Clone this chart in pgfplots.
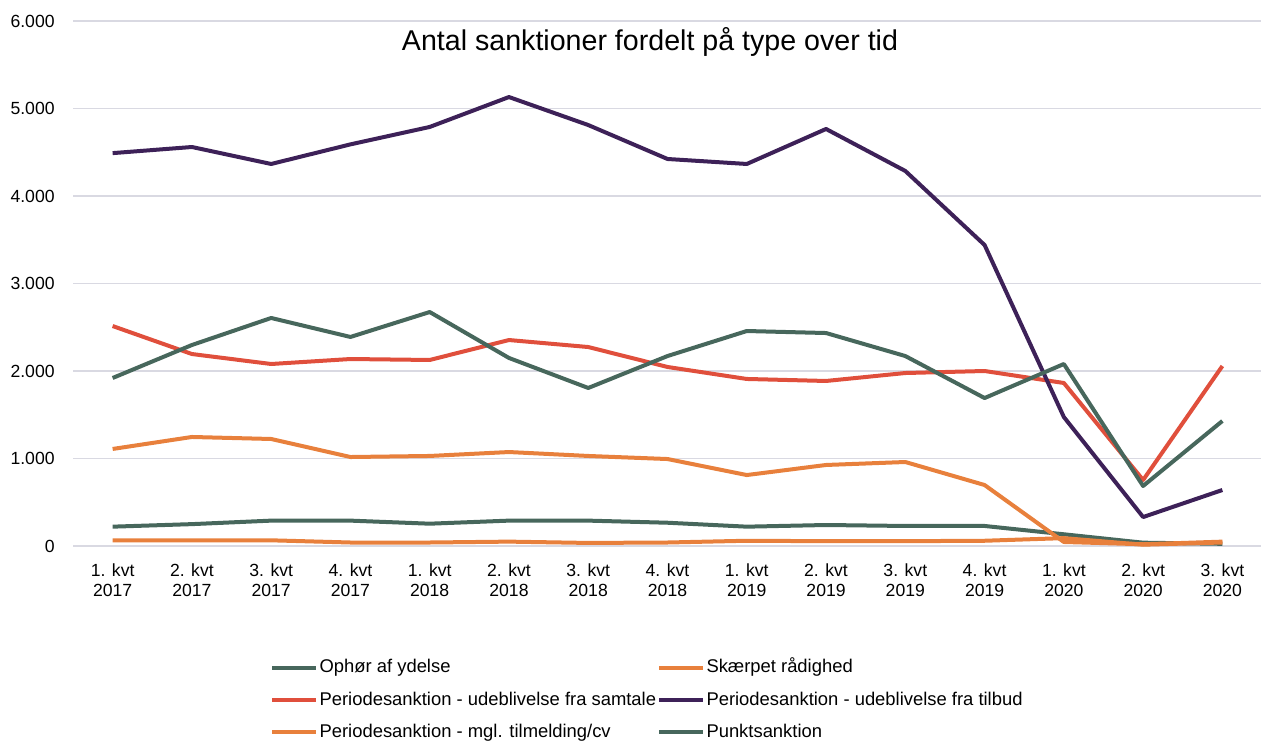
\documentclass[border=0pt]{standalone}
\usepackage{pgfplots}
\pgfplotsset{compat=1.18}
\usepackage{fontspec}
\setmainfont{Liberation Sans}

\definecolor{cgreen}{RGB}{71,103,92}
\definecolor{corange}{RGB}{232,128,60}
\definecolor{cred}{RGB}{224,79,60}
\definecolor{cpurple}{RGB}{61,33,88}
\definecolor{cgrid}{RGB}{217,217,226}

\begin{document}
\begin{tikzpicture}
\path[use as bounding box] (0,0) rectangle (630.5pt,370pt);
\node[anchor=base, font=\fontsize{14.3}{16}\selectfont] at (325pt,344.5pt)
  {Antal sanktioner fordelt på type over tid};
\begin{axis}[
    at={(36.5pt,97pt)}, anchor=south west,
    scale only axis, width=594.5pt, height=262.5pt,
    xmin=-0.5, xmax=14.5, ymin=0, ymax=6000,
    axis line style={draw=none},
    major tick length=0pt,
    ymajorgrids=true,
    grid style={cgrid, line width=0.6pt},
    ytick={0,1000,2000,3000,4000,5000,6000},
    yticklabels={0,1.000,2.000,3.000,4.000,5.000,6.000},
    xtick={0,...,14},
    xticklabels={{1. kvt\\2017},{2. kvt\\2017},{3. kvt\\2017},{4. kvt\\2017},
                 {1. kvt\\2018},{2. kvt\\2018},{3. kvt\\2018},{4. kvt\\2018},
                 {1. kvt\\2019},{2. kvt\\2019},{3. kvt\\2019},{4. kvt\\2019},
                 {1. kvt\\2020},{2. kvt\\2020},{3. kvt\\2020}},
    yticklabel style={anchor=east, inner sep=0pt, xshift=-9pt,
        font=\fontsize{8.8}{10}\selectfont},
    xticklabel style={anchor=north, inner sep=0pt, yshift=-8.5pt, align=center,
        font=\fontsize{8.8}{10}\selectfont},
    every axis plot/.append style={line width=2pt, line join=round},
    legend columns=2,
    legend cell align=left,
    legend style={at={(0.1657,0)}, anchor=north west, yshift=-55.5pt,
        draw=none, fill=none, inner sep=0pt,
        font=\fontsize{9.2}{10}\selectfont,
        nodes={inner sep=0.6pt, text height=7pt, text depth=2pt},
        row sep=6pt,
        /tikz/every even column/.append style={column sep=0pt}},
    legend image code/.code={\draw[#1, line width=2pt] (0pt,0pt) -- (22pt,0pt);},
]
% Ophør af ydelse
\addplot[cgreen] coordinates {
 (0,221) (1,250) (2,290) (3,290) (4,255) (5,290) (6,290) (7,266)
 (8,221) (9,240) (10,229) (11,229) (12,134) (13,38) (14,25)};
\addlegendentry{Ophør af ydelse}
% Skærpet rådighed
\addplot[corange] coordinates {
 (0,65) (1,65) (2,65) (3,40) (4,40) (5,50) (6,35) (7,40)
 (8,60) (9,55) (10,55) (11,60) (12,90) (13,15) (14,40)};
\addlegendentry{Skærpet rådighed}
% Periodesanktion - udeblivelse fra samtale
\addplot[cred] coordinates {
 (0,2514) (1,2194) (2,2080) (3,2137) (4,2126) (5,2354) (6,2274) (7,2046)
 (8,1909) (9,1886) (10,1977) (11,2000) (12,1863) (13,754) (14,2057)};
\addlegendentry{Periodesanktion - udeblivelse fra samtale}
% Periodesanktion - udeblivelse fra tilbud
\addplot[cpurple] coordinates {
 (0,4490) (1,4560) (2,4366) (3,4590) (4,4789) (5,5131) (6,4811) (7,4423)
 (8,4366) (9,4766) (10,4286) (11,3440) (12,1474) (13,331) (14,640)};
\addlegendentry{Periodesanktion - udeblivelse fra tilbud}
% Periodesanktion - mgl. tilmelding/cv
\addplot[corange] coordinates {
 (0,1109) (1,1246) (2,1223) (3,1017) (4,1029) (5,1074) (6,1029) (7,994)
 (8,811) (9,926) (10,960) (11,697) (12,46) (13,20) (14,50)};
\addlegendentry{Periodesanktion - mgl. tilmelding/cv}
% Punktsanktion
\addplot[cgreen] coordinates {
 (0,1920) (1,2297) (2,2606) (3,2389) (4,2674) (5,2149) (6,1806) (7,2171)
 (8,2457) (9,2434) (10,2171) (11,1691) (12,2080) (13,686) (14,1429)};
\addlegendentry{Punktsanktion}
\end{axis}
\end{tikzpicture}
\end{document}
